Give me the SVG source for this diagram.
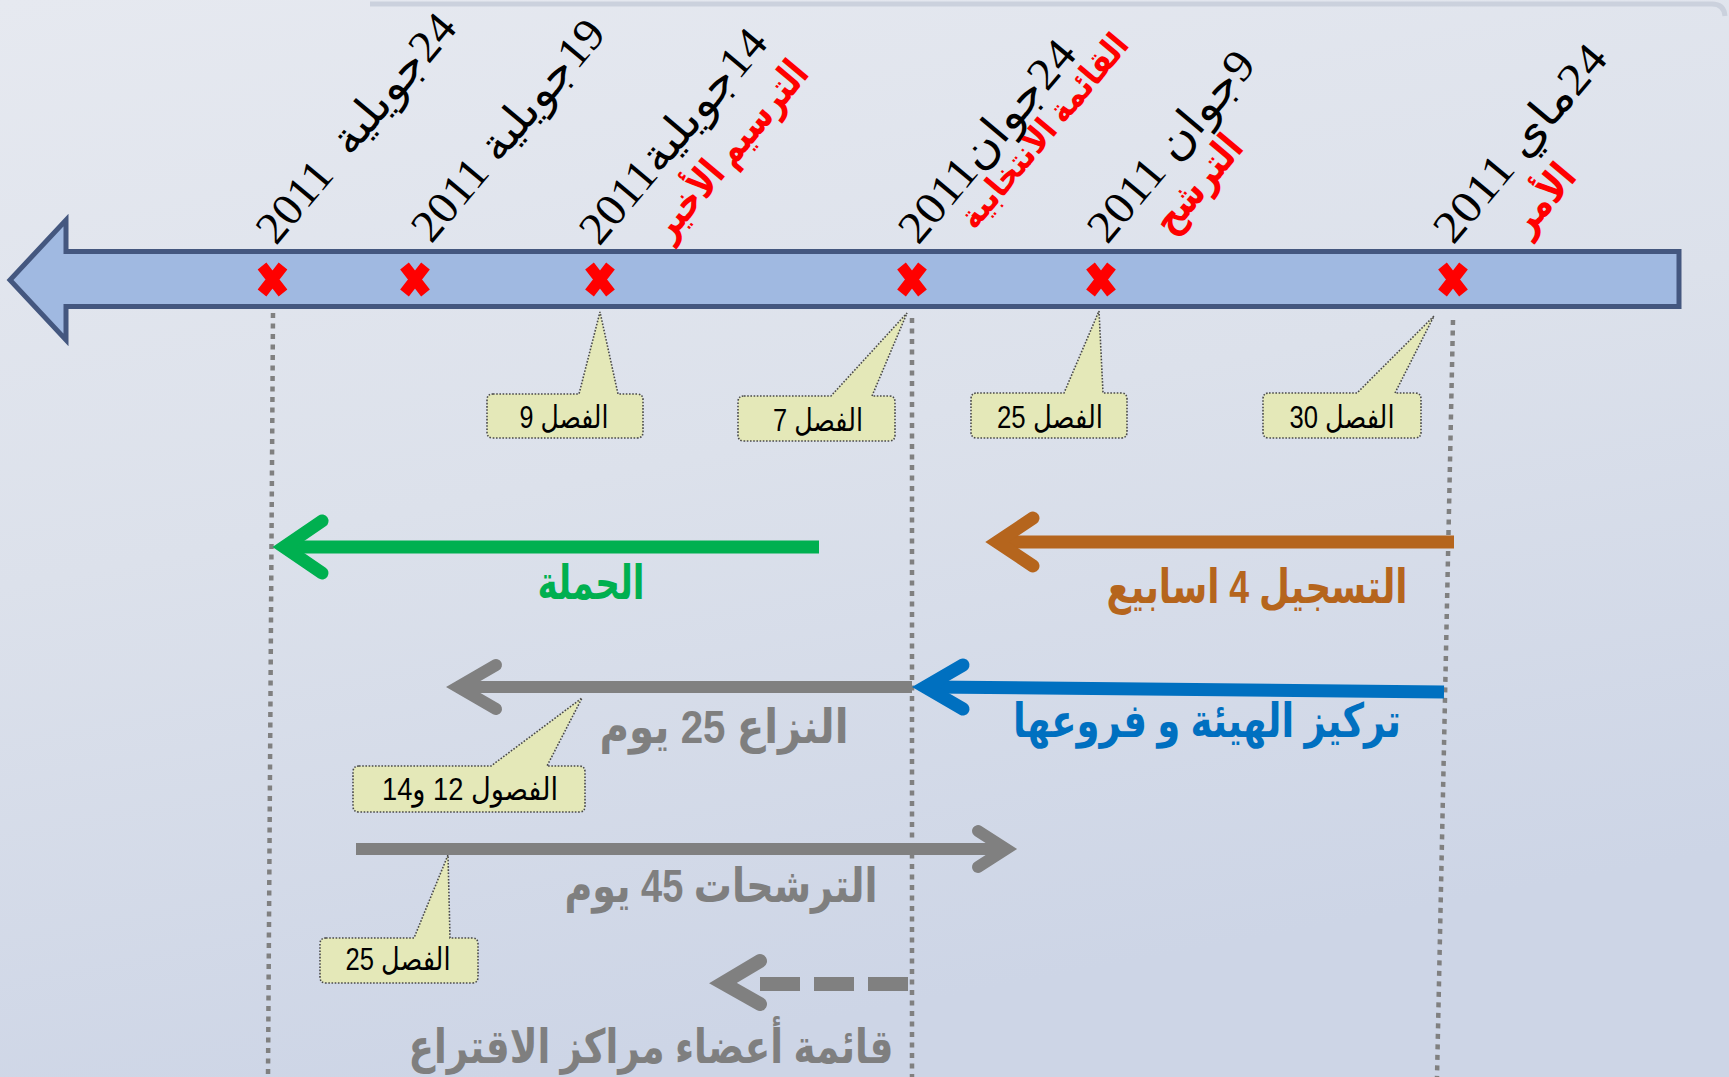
<svg xmlns="http://www.w3.org/2000/svg" width="1729" height="1077" viewBox="0 0 1729 1077">
  <defs>
    <linearGradient id="bg" x1="0" y1="0" x2="0.3" y2="1">
      <stop offset="0" stop-color="#E6E9F0"/>
      <stop offset="0.5" stop-color="#DCE1EB"/>
      <stop offset="1" stop-color="#CDD5E6"/>
    </linearGradient>
    <style>
      .date { font-family: "Liberation Serif", "DejaVu Sans", serif; font-size: 45px; fill: #000; }
      .red { font-family: "Liberation Serif", "DejaVu Sans", serif; font-size: 40px; font-weight: bold; fill: #FF0000; }
      .xmark { stroke: #FF0000; stroke-width: 11; stroke-linecap: butt; fill: none; }
      .guide { stroke: #808080; stroke-width: 4.5; stroke-dasharray: 5 5.5; fill: none; }
      .callout { fill: #E4E8B8; stroke: #4A4A4A; stroke-width: 1.6; stroke-dasharray: 1.6 1.6; }
      .ctext { font-family: "Liberation Sans", "DejaVu Sans", sans-serif; font-size: 31px; fill: #000; }
      .big { font-family: "Liberation Sans", "DejaVu Sans", sans-serif; font-size: 47px; font-weight: bold; }
      .shaft { fill: none; stroke-linecap: butt; }
      .head { fill: none; stroke-linecap: round; stroke-linejoin: miter; stroke-miterlimit: 10; }
    </style>
  </defs>

  <g id="background">
    <rect x="0" y="0" width="1729" height="1077" fill="url(#bg)"/>
    <path d="M370,4 L1712,4 Q1724,4 1725,16" fill="none" stroke="#CBD1DD" stroke-width="5"/>
  </g>

  <g id="timeline">
    <path d="M1679,251.5 L66,251.5 L66,220 L10,280 L66,340 L66,306.5 L1679,306.5 Z" fill="#A0B9E1" stroke="#44577F" stroke-width="5" stroke-linejoin="miter"/>
    <g id="marks">
      <path class="xmark" d="M262,266 L283,293 M283,266 L262,293"/>
      <path class="xmark" d="M404.5,266 L425.5,293 M425.5,266 L404.5,293"/>
      <path class="xmark" d="M589.5,266 L610.5,293 M610.5,266 L589.5,293"/>
      <path class="xmark" d="M901.5,266 L922.5,293 M922.5,266 L901.5,293"/>
      <path class="xmark" d="M1090.5,266 L1111.5,293 M1111.5,266 L1090.5,293"/>
      <path class="xmark" d="M1442.5,266 L1463.5,293 M1463.5,266 L1442.5,293"/>
    </g>
  </g>

  <g id="guides">
    <path class="guide" d="M273,313 L268,1077"/>
    <path class="guide" d="M912,318 L912,1077"/>
    <path class="guide" d="M1453,320 L1437,1077"/>
  </g>

  <g id="date-labels">
    <g id="date-24-july" transform="translate(356,128) rotate(-50)">
      <text class="date" direction="rtl" text-anchor="middle" dy="0.33em" xml:space="preserve" textLength="284" lengthAdjust="spacingAndGlyphs">24جويلية  2011</text>
    </g>
    <g id="date-19-july" transform="translate(508,130) rotate(-50)">
      <text class="date" direction="rtl" text-anchor="middle" dy="0.33em" textLength="274" lengthAdjust="spacingAndGlyphs">19جويلية 2011</text>
    </g>
    <g id="date-14-july">
      <text class="date" direction="rtl" text-anchor="middle" dy="0.33em" textLength="265" lengthAdjust="spacingAndGlyphs" transform="translate(673,136) rotate(-50)">14جويلية2011</text>
      <text class="red" direction="rtl" text-anchor="middle" dy="0.33em" textLength="219" lengthAdjust="spacingAndGlyphs" transform="translate(730,150) rotate(-50)">الترسيم الأخير</text>
    </g>
    <g id="date-24-june">
      <text class="date" direction="rtl" text-anchor="middle" dy="0.33em" textLength="249" lengthAdjust="spacingAndGlyphs" transform="translate(987,141) rotate(-50)">24جوان2011</text>
      <text class="red" direction="rtl" text-anchor="middle" dy="0.33em" textLength="242" lengthAdjust="spacingAndGlyphs" style="font-size:34px" transform="translate(1044,131) rotate(-50)">القائمة الانتخابية</text>
    </g>
    <g id="date-9-june">
      <text class="date" direction="rtl" text-anchor="middle" dy="0.33em" textLength="234" lengthAdjust="spacingAndGlyphs" transform="translate(1171,146) rotate(-50)">9جوان 2011</text>
      <text class="red" direction="rtl" text-anchor="middle" dy="0.33em" textLength="115" lengthAdjust="spacingAndGlyphs" transform="translate(1198,184) rotate(-50)">الترشح</text>
    </g>
    <g id="date-24-may">
      <text class="date" direction="rtl" text-anchor="middle" dy="0.33em" textLength="243" lengthAdjust="spacingAndGlyphs" transform="translate(1520,143) rotate(-50)">24ماي 2011</text>
      <text class="red" direction="rtl" text-anchor="middle" dy="0.33em" textLength="78" lengthAdjust="spacingAndGlyphs" transform="translate(1543,199) rotate(-50)">الأمر</text>
    </g>
  </g>

  <g id="callouts">
    <g id="callout-ch9">
      <path class="callout" d="M493,394 L579,394 L600,312 L618,394 L637,394 Q643,394 643,400 L643,432 Q643,438 637,438 L493,438 Q487,438 487,432 L487,400 Q487,394 493,394 Z"/>
      <text class="ctext" direction="rtl" x="564" y="428" text-anchor="middle" textLength="89" lengthAdjust="spacingAndGlyphs">الفصل 9</text>
    </g>
    <g id="callout-ch7">
      <path class="callout" d="M744,396 L831,396 L907,313 L872,396 L889,396 Q895,396 895,402 L895,435 Q895,441 889,441 L744,441 Q738,441 738,435 L738,402 Q738,396 744,396 Z"/>
      <text class="ctext" direction="rtl" x="818" y="431" text-anchor="middle" textLength="90" lengthAdjust="spacingAndGlyphs">الفصل 7</text>
    </g>
    <g id="callout-ch25-top">
      <path class="callout" d="M977,393 L1064,393 L1099,311 L1103,393 L1121,393 Q1127,393 1127,399 L1127,432 Q1127,438 1121,438 L977,438 Q971,438 971,432 L971,399 Q971,393 977,393 Z"/>
      <text class="ctext" direction="rtl" x="1050" y="428" text-anchor="middle" textLength="106" lengthAdjust="spacingAndGlyphs">الفصل 25</text>
    </g>
    <g id="callout-ch30">
      <path class="callout" d="M1269,393 L1357,393 L1434,316 L1395,393 L1415,393 Q1421,393 1421,399 L1421,432 Q1421,438 1415,438 L1269,438 Q1263,438 1263,432 L1263,399 Q1263,393 1269,393 Z"/>
      <text class="ctext" direction="rtl" x="1342" y="428" text-anchor="middle" textLength="105" lengthAdjust="spacingAndGlyphs">الفصل 30</text>
    </g>
    <g id="callout-ch12-14">
      <path class="callout" d="M359,766 L491,766 L582,698 L547,766 L579,766 Q585,766 585,772 L585,806 Q585,812 579,812 L359,812 Q353,812 353,806 L353,772 Q353,766 359,766 Z"/>
      <text class="ctext" direction="rtl" x="470" y="800" text-anchor="middle" textLength="176" lengthAdjust="spacingAndGlyphs">الفصول 12 و14</text>
    </g>
    <g id="callout-ch25-bottom">
      <path class="callout" d="M326,938 L414,938 L448,855 L450,938 L472,938 Q478,938 478,944 L478,977 Q478,983 472,983 L326,983 Q320,983 320,977 L320,944 Q320,938 326,938 Z"/>
      <text class="ctext" direction="rtl" x="398" y="970" text-anchor="middle" textLength="105" lengthAdjust="spacingAndGlyphs">الفصل 25</text>
    </g>
  </g>

  <g id="connectors">
    <g id="arrow-campaign" stroke="#00B050" stroke-width="13">
      <path class="shaft" d="M819,547 L290,547"/>
      <path class="head" d="M322,521 L284,547 L322,573"/>
    </g>
    <g id="arrow-registration" stroke="#B5651D" stroke-width="13">
      <path class="shaft" d="M1454,542 L1002,542"/>
      <path class="head" d="M1033,518 L997,542 L1033,566"/>
    </g>
    <g id="arrow-setup" stroke="#0070C0" stroke-width="13">
      <path class="shaft" d="M1444,692 L930,687"/>
      <path class="head" d="M963,665 L925,687 L963,709"/>
    </g>
    <g id="arrow-dispute" stroke="#808080" stroke-width="12">
      <path class="shaft" d="M912,687 L462,687"/>
      <path class="head" d="M496,665 L458,687 L496,709"/>
    </g>
    <g id="arrow-candidacies" stroke="#808080" stroke-width="12">
      <path class="shaft" d="M356,849 L1002,849"/>
      <path class="head" d="M978,831 L1006,849 L978,867"/>
    </g>
    <g id="arrow-polling-staff" stroke="#808080" stroke-width="14">
      <path class="shaft" d="M908,984 L760,984" stroke-dasharray="40 14"/>
      <path class="head" d="M760,961 L723,983 L760,1004"/>
    </g>
  </g>

  <g id="phase-labels">
    <g id="label-campaign"><text class="big" fill="#00B050" direction="rtl" x="591" y="599" text-anchor="middle" textLength="107" lengthAdjust="spacingAndGlyphs">الحملة</text></g>
    <g id="label-registration"><text class="big" fill="#B5651D" direction="rtl" x="1257" y="603" text-anchor="middle" textLength="301" lengthAdjust="spacingAndGlyphs">التسجيل 4 اسابيع</text></g>
    <g id="label-setup"><text class="big" fill="#0070C0" direction="rtl" x="1207" y="737" text-anchor="middle" textLength="388" lengthAdjust="spacingAndGlyphs">تركيز الهيئة و فروعها</text></g>
    <g id="label-dispute"><text class="big" fill="#7F7F7F" direction="rtl" x="724" y="743" text-anchor="middle" textLength="249" lengthAdjust="spacingAndGlyphs">النزاع 25 يوم</text></g>
    <g id="label-candidacies"><text class="big" fill="#7F7F7F" direction="rtl" x="721" y="902" text-anchor="middle" textLength="313" lengthAdjust="spacingAndGlyphs">الترشحات 45 يوم</text></g>
    <g id="label-polling-staff"><text class="big" fill="#7F7F7F" direction="rtl" x="651" y="1063" text-anchor="middle" textLength="485" lengthAdjust="spacingAndGlyphs">قائمة أعضاء مراكز الاقتراع</text></g>
  </g>
</svg>
